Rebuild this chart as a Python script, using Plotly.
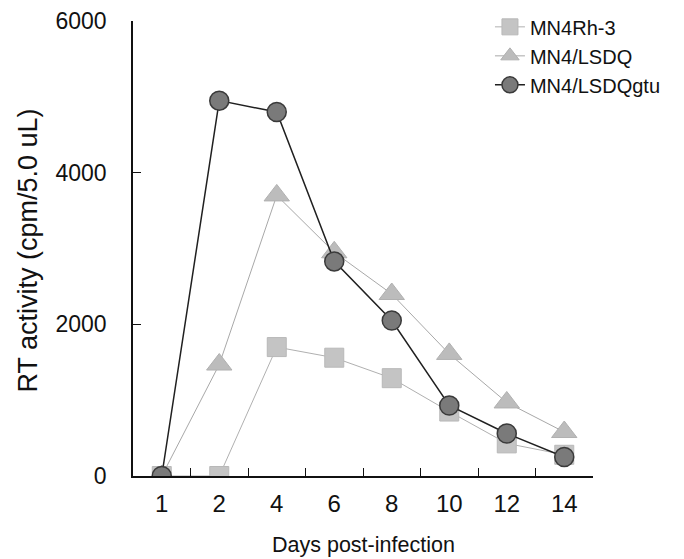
import plotly.graph_objects as go

days = ["1", "2", "4", "6", "8", "10", "12", "14"]
mn4rh3 = [0, 0, 1700, 1560, 1290, 850, 430, 280]
mn4lsdq = [0, 1470, 3700, 2950, 2400, 1610, 970, 580]
mn4lsdqgtu = [0, 4950, 4800, 2830, 2050, 930, 560, 250]

font = "Liberation Sans, Arial, sans-serif"

fig = go.Figure()
fig.add_trace(go.Scatter(
    x=days, y=mn4rh3, name="MN4Rh-3", mode="lines+markers",
    line=dict(color="#b0b0b0", width=1),
    marker=dict(symbol="square", size=19, color="#c4c4c4",
                line=dict(color="#b8b8b8", width=1)),
))
fig.add_trace(go.Scatter(
    x=days, y=mn4lsdq, name="MN4/LSDQ", mode="lines+markers",
    line=dict(color="#a8a8a8", width=1),
    marker=dict(symbol="triangle-up", size=22, color="#bcbcbc",
                line=dict(color="#b0b0b0", width=1)),
))
fig.add_trace(go.Scatter(
    x=days, y=mn4lsdqgtu, name="MN4/LSDQgtu", mode="lines+markers",
    line=dict(color="#202020", width=1.5),
    marker=dict(symbol="circle", size=19, color="#7a7a7a",
                line=dict(color="#3a3a3a", width=1.5)),
))

fig.update_layout(
    width=676, height=551,
    margin=dict(l=125, r=91, t=13, b=83, autoexpand=False),
    paper_bgcolor="white", plot_bgcolor="white",
    font=dict(family=font, size=23, color="#111111"),
    showlegend=True,
    legend=dict(x=0.776, y=1.03, xanchor="left", yanchor="top",
                bgcolor="rgba(0,0,0,0)", font=dict(size=20),
                tracegroupgap=0, itemwidth=30),
    annotations=[
        dict(text="Days post-infection", xref="paper", yref="paper",
             x=0.5, y=0, yshift=-69, xanchor="center", yanchor="middle",
             showarrow=False, font=dict(size=21.5)),
        dict(text="RT activity (cpm/5.0 uL)", xref="paper", yref="paper",
             x=0, y=0.5, xshift=-106, yshift=-2, xanchor="center",
             yanchor="middle", textangle=-90, showarrow=False,
             font=dict(size=27)),
    ],
)
fig.update_xaxes(
    type="category", range=[-0.5, 7.5], tickson="boundaries",
    ticks="inside", ticklen=8, tickcolor="#111", showline=True,
    linecolor="#111", linewidth=1.5, showgrid=False, zeroline=False,
    tickfont=dict(size=24), ticklabelstandoff=5,
    ticklabeloverflow="allow",
)
fig.update_yaxes(
    range=[0, 6000], tickvals=[0, 2000, 4000, 6000],
    ticks="inside", ticklen=8, tickcolor="#111", showline=True,
    linecolor="#111", linewidth=1.5, showgrid=False, zeroline=False,
    tickfont=dict(size=23), ticklabelstandoff=20,
    ticklabeloverflow="allow",
)
fig.write_html("out.html")
